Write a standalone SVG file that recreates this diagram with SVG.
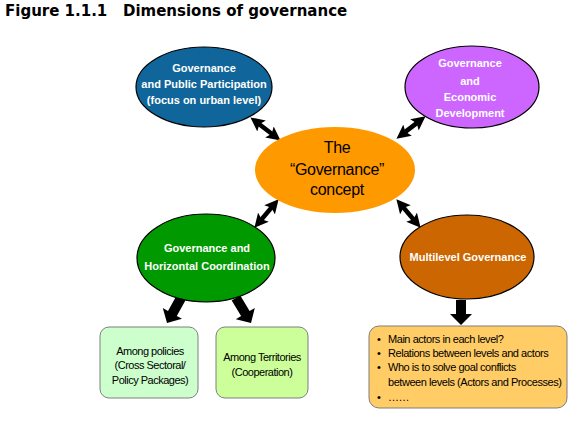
<svg xmlns="http://www.w3.org/2000/svg" width="579" height="422" viewBox="0 0 579 422">
<style>
.title{font-family:"DejaVu Sans",Verdana,sans-serif;font-weight:bold;font-size:15px;fill:#000;white-space:pre}
.wt{font-family:"Liberation Sans",Arial,sans-serif;font-weight:bold;font-size:11px;fill:#fff;text-anchor:middle}
.ct{font-family:"Liberation Sans",Arial,sans-serif;font-size:16px;fill:#000;text-anchor:middle;letter-spacing:-0.3px}
.bt{font-family:"Liberation Sans",Arial,sans-serif;font-size:11px;fill:#000;text-anchor:middle;letter-spacing:-0.5px}
.lt{font-family:"Liberation Sans",Arial,sans-serif;font-size:11px;fill:#000;letter-spacing:-0.45px}
.el{stroke:#000;stroke-width:1.2}
.box{stroke:#7f7f7f;stroke-width:1}
.dbl{stroke:#000;stroke-width:4.5;fill:none;marker-start:url(#ah);marker-end:url(#ah)}
.blk{fill:#000}
</style>
<defs>
<marker id="ah" viewBox="0 0 10 10" refX="5" refY="5" markerWidth="14" markerHeight="14" markerUnits="userSpaceOnUse" orient="auto-start-reverse">
<path d="M0,0 L10,5 L0,10 L2,5 z" fill="#000"/>
</marker>
</defs>
<text class="title" x="5" y="16" xml:space="preserve">Figure 1.1.1   Dimensions of governance</text>
<g id="connectors">
<line class="dbl" x1="256" y1="121.7" x2="275" y2="136.3"/>
<line class="dbl" x1="420" y1="120.6" x2="402" y2="134.4"/>
<line class="dbl" x1="274.1" y1="204.5" x2="258.9" y2="222.5"/>
<line class="dbl" x1="400.9" y1="204.5" x2="416.1" y2="222.5"/>
<polygon class="blk" points="185.4,300.5 176.8,315.9 182,318.8 167,323 162.8,308 168,311 176.6,295.6"/>
<polygon class="blk" points="240.3,295.4 249.6,311 254.8,307.9 251,323 235.9,319.2 241.1,316.1 231.7,300.6"/>
<polygon class="blk" points="456,300 466,300 466,314 472,314 461,325 450,314 456,314"/>
</g>
<g id="node-public">
<ellipse class="el" cx="204" cy="87" rx="68" ry="40" fill="#10659a"/>
<text class="wt" x="204" y="72">Governance</text>
<text class="wt" x="204" y="88">and Public Participation</text>
<text class="wt" x="204" y="104">(focus on urban level)</text>
</g>
<g id="node-economic">
<ellipse class="el" cx="472" cy="87" rx="67" ry="41" fill="#cc66ff"/>
<text class="wt" x="470" y="67">Governance</text>
<text class="wt" x="470" y="85">and</text>
<text class="wt" x="470" y="101">Economic</text>
<text class="wt" x="470" y="117">Development</text>
</g>
<g id="node-concept">
<ellipse cx="335" cy="170" rx="80" ry="43" fill="#ff9900"/>
<text class="ct" x="337" y="153">The</text>
<text class="ct" x="337" y="175">“Governance”</text>
<text class="ct" x="337" y="195">concept</text>
</g>
<g id="node-horizontal">
<ellipse class="el" cx="206" cy="258" rx="69" ry="44" fill="#009900"/>
<text class="wt" x="207" y="252">Governance and</text>
<text class="wt" x="207" y="270">Horizontal Coordination</text>
</g>
<g id="node-multilevel">
<ellipse class="el" cx="467" cy="257" rx="67" ry="42" fill="#cc6600"/>
<text class="wt" x="468" y="261">Multilevel Governance</text>
</g>
<g id="node-policies">
<rect class="box" x="100" y="327" width="98" height="71" rx="9" fill="#ccffcc"/>
<text class="bt" x="150" y="355">Among policies</text>
<text class="bt" x="150" y="369">(Cross Sectoral/</text>
<text class="bt" x="150" y="384">Policy Packages)</text>
</g>
<g id="node-territories">
<rect class="box" x="216" y="327" width="92" height="71" rx="9" fill="#ccff99"/>
<text class="bt" x="262" y="361">Among Territories</text>
<text class="bt" x="262" y="376">(Cooperation)</text>
</g>
<g id="node-questions">
<rect class="box" x="369" y="326" width="198" height="82" rx="10" fill="#ffcc66"/>
<text class="lt" x="377" y="343">•</text><text class="lt" x="388" y="343">Main actors in each level?</text>
<text class="lt" x="377" y="357">•</text><text class="lt" x="388" y="357">Relations between levels and actors</text>
<text class="lt" x="377" y="371">•</text><text class="lt" x="388" y="371">Who is to solve goal conflicts</text>
<text class="lt" x="388" y="386">between levels (Actors and Processes)</text>
<text class="lt" x="377" y="401">•</text><text class="lt" x="388" y="401">……</text>
</g>
</svg>
